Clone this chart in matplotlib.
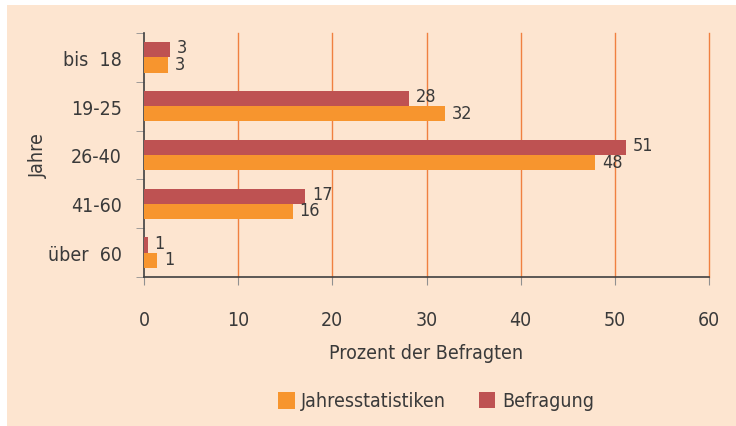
import matplotlib.pyplot as plt
import numpy as np
from matplotlib.patches import Rectangle

# data
categories = ['bis  18', '19-25', '26-40', '41-60', 'über  60']
befragung = [2.8, 28.1, 51.2, 17.1, 0.4]
jahresstatistiken = [2.5, 32.0, 47.9, 15.8, 1.4]
befragung_labels = ['3', '28', '51', '17', '1']
jahres_labels = ['3', '32', '48', '16', '1']
xticks = [0, 10, 20, 30, 40, 50, 60]

bg = '#FDE5D0'
c_orange = '#F7952E'
c_red = '#BE5252'
c_text = '#3A3A3A'
c_grid = '#F08040'

plt.rcParams['font.family'] = 'DejaVu Sans'
plt.rcParams['font.stretch'] = 'condensed'

W, H = 736, 427
fig = plt.figure(figsize=(W / 100, H / 100), dpi=100)
fig.patch.set_facecolor('white')
fig.patches.append(Rectangle((7 / W, 0), 1 - 7 / W, 1 - 6 / H, transform=fig.transFigure,
                             facecolor=bg, edgecolor='none', zorder=-10))

# axes box in pixels: x 144..709, y 34..278
ax = fig.add_axes([144 / W, 1 - 278 / H, (709 - 144) / W, (278 - 34) / H])
ax.patch.set_alpha(0)

n = len(categories)
y = np.arange(n)[::-1].astype(float)
h = 0.31
ax.barh(y + h / 2, befragung, height=h, color=c_red, zorder=3)
ax.barh(y - h / 2, jahresstatistiken, height=h, color=c_orange, zorder=3)

for yi, v, lab in zip(y, befragung, befragung_labels):
    ax.annotate(lab, (v, yi + h / 2 + 0.05), xytext=(5, 0), textcoords='offset points',
                va='center', ha='left', fontsize=13, color=c_text)
for yi, v, lab in zip(y, jahresstatistiken, jahres_labels):
    ax.annotate(lab, (v, yi - h / 2 + 0.02), xytext=(5, 0), textcoords='offset points',
                va='center', ha='left', fontsize=13, color=c_text)

ax.set_xlim(0, 60)
ax.set_ylim(-0.5, n - 0.5)
ax.set_xticks(xticks)
ax.set_xticklabels([str(t) for t in xticks], fontsize=14, color=c_text)
ax.tick_params(axis='x', length=6, color='#909090', pad=18)
ax.set_yticks(y)
ax.set_yticklabels(categories, fontsize=14, color=c_text)
ax.set_yticks(np.arange(n + 1) - 0.5, minor=True)
ax.tick_params(axis='y', which='major', length=0, pad=16)
ax.tick_params(axis='y', which='minor', length=6, color='#909090')

for t in xticks[1:]:
    ax.axvline(t, color=c_grid, lw=1, zorder=1, clip_on=False)

for s in ['top', 'right']:
    ax.spines[s].set_visible(False)
for s in ['left', 'bottom']:
    ax.spines[s].set_color('#404040')
    ax.spines[s].set_linewidth(1.2)

ax.set_xlabel('Prozent der Befragten', fontsize=14, color=c_text)
ax.xaxis.set_label_coords(0.5, -(354 - 278) / (278 - 34), transform=ax.transAxes)
ax.xaxis.label.set_va('center')
ax.set_ylabel('Jahre', fontsize=14, color=c_text)
ax.yaxis.set_label_coords(-(144 - 38) / (709 - 144), 0.5, transform=ax.transAxes)
ax.yaxis.label.set_va('center')

# legend
fig.patches.append(Rectangle((278 / W, 1 - 410 / H), 17 / W, 17 / H, transform=fig.transFigure,
                             facecolor=c_orange, edgecolor='none'))
fig.text(301 / W, 1 - 402 / H, 'Jahresstatistiken', fontsize=14, color=c_text, va='center')
fig.patches.append(Rectangle((479 / W, 1 - 409 / H), 16 / W, 16 / H, transform=fig.transFigure,
                             facecolor=c_red, edgecolor='none'))
fig.text(502 / W, 1 - 402 / H, 'Befragung', fontsize=14, color=c_text, va='center')

fig.savefig('out.png', dpi=100, facecolor='white')
